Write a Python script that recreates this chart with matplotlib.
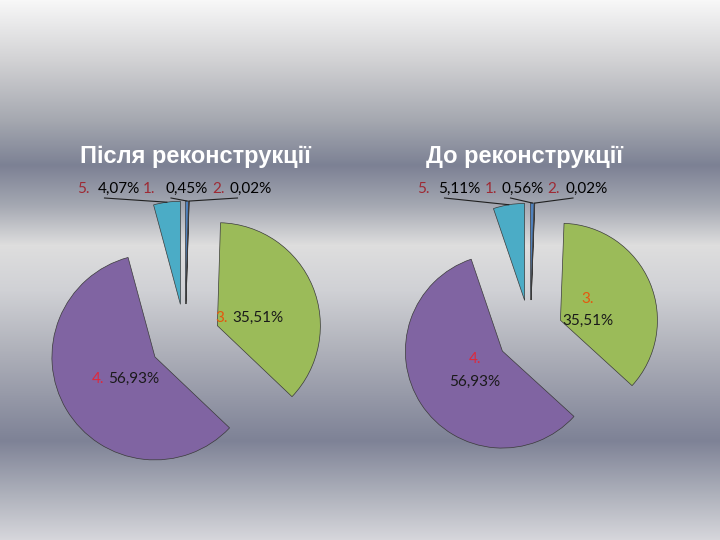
import numpy as np
import matplotlib
matplotlib.use("Agg")
import matplotlib.pyplot as plt

# slice data, order: 1, 2, 3, 4, 5 (clockwise from 12 o'clock)
slice_ids = ["1.", "2.", "3.", "4.", "5."]
after_values = [0.45, 0.02, 35.51, 56.93, 4.07]
before_values = [0.56, 0.02, 35.51, 56.93, 5.11]
titles = ["Після реконструкції", "До реконструкції"]

colors = ["#4F81BD", "#C0504D", "#9BBB59", "#8064A2", "#4BACC6"]
id_colors = ["#9E2A34", "#9E2A34", "#E4580E", "#E0283A", "#9E2A34"]

W, H = 720, 540


def fmt(v):
    return f"{v:.2f}".replace(".", ",") + "%"


fig = plt.figure(figsize=(7.2, 5.4), dpi=100)
ax = fig.add_axes([0, 0, 1, 1])

# background gradient (image y from top)
stop_y = [0, 60, 120, 165, 205, 245, 290, 350, 440, 495, 540]
stop_c = np.array([(248, 248, 248), (210, 210, 212), (165, 168, 176), (124, 129, 148),
                   (165, 168, 178), (222, 222, 222), (208, 209, 213), (175, 177, 186),
                   (126, 130, 150), (175, 178, 188), (215, 215, 220)]) / 255.0
yy = np.arange(H)
grad = np.stack([np.interp(yy, stop_y, stop_c[:, k]) for k in range(3)], axis=1)
grad = np.repeat(grad[:, None, :], 4, axis=1)
ax.imshow(grad, extent=(0, W, 0, H), aspect="auto", zorder=0)


def iy(y):
    # image pixel row -> data y
    return H - y


# pie layouts: centre (image px), radius, explode offset, label positions
layouts = [
    dict(values=after_values, center=(185, 339), radius=103, expl=35, title_x=195,
         top=[(143, 165), (212, 229), None, None, (77, 98)],
         inside={2: ("row", 215, 232, 322), 3: ("row", 92, 108, 383)}),
    dict(values=before_values, center=(530, 333), radius=97, expl=33, title_x=524,
         top=[(485, 502), (547, 565), None, None, (417, 438)],
         inside={2: ("col", 588, 303, 325), 3: ("col", 475, 363, 386)}),
]

for lay, title in zip(layouts, titles):
    vals = lay["values"]
    cx, cy = lay["center"]
    wedges, _ = ax.pie(vals, colors=colors, startangle=90, counterclock=False,
                       explode=[lay["expl"]] * len(vals), radius=lay["radius"],
                       center=(cx, iy(cy)),
                       wedgeprops=dict(edgecolor="#3a3a3a", linewidth=0.5))
    ax.text(lay["title_x"], iy(163), title, ha="center", va="baseline",
            fontsize=17, fontweight="bold", color="white", family="Liberation Sans")

    for i, w in enumerate(wedges):
        pos = lay["top"][i]
        if pos is not None:
            x_id, x_val = pos
            ax.text(x_id, iy(193), slice_ids[i], color=id_colors[i], fontsize=11,
                    family="Lato", va="baseline", ha="left")
            ax.text(x_val, iy(193), fmt(vals[i]), color="black", fontsize=11,
                    family="Lato", va="baseline", ha="left")
            # leader line from label to wedge outer edge
            mid = np.deg2rad((w.theta1 + w.theta2) / 2)
            wx = w.center[0] + w.r * np.cos(mid)
            wy = w.center[1] + w.r * np.sin(mid)
            sx = (x_id + x_val) / 2 + 17
            ax.plot([sx, wx], [iy(198), wy], color="#202020", lw=0.8, zorder=5)

    for i, spec in lay["inside"].items():
        kind = spec[0]
        if kind == "row":
            _, x_id, x_val, base = spec
            ax.text(x_id, iy(base), slice_ids[i], color=id_colors[i], fontsize=11,
                    family="Lato", va="baseline", ha="left")
            ax.text(x_val, iy(base), fmt(vals[i]), color="#1a1a1a", fontsize=11,
                    family="Lato", va="baseline", ha="left")
        else:
            _, xc, b1, b2 = spec
            ax.text(xc, iy(b1), slice_ids[i], color=id_colors[i], fontsize=11,
                    family="Lato", va="baseline", ha="center")
            ax.text(xc, iy(b2), fmt(vals[i]), color="#1a1a1a", fontsize=11,
                    family="Lato", va="baseline", ha="center")

ax.set_xlim(0, W)
ax.set_ylim(0, H)
ax.set_aspect("auto")
ax.axis("off")

fig.savefig("out.png", dpi=100)
